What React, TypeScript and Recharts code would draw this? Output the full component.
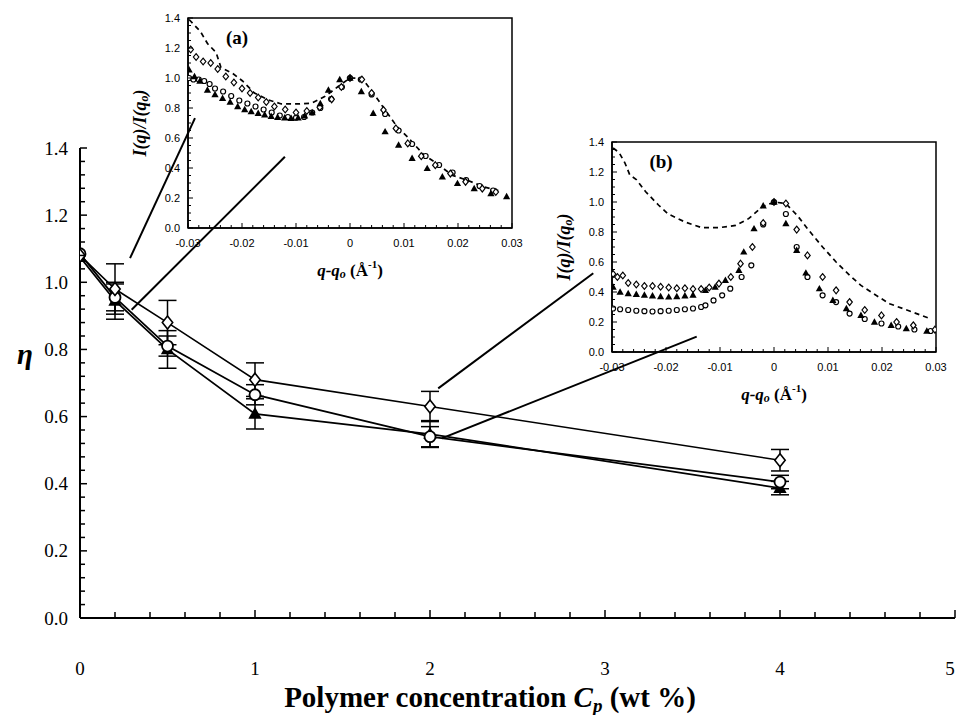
import React from 'react';
import {
  ComposedChart,
  Line,
  Scatter,
  XAxis,
  YAxis,
  ErrorBar,
  ReferenceLine,
  ReferenceArea,
} from 'recharts';

// main plot: eta vs polymer concentration (wt %)
const concentration = [0, 0.2, 0.5, 1, 2, 4];
const etaDiamond = [1.08, 0.98, 0.88, 0.71, 0.63, 0.47];
const errDiamond = [0, 0.075, 0.066, 0.05, 0.045, 0.032];
const etaCircle = [1.085, 0.955, 0.81, 0.665, 0.54, 0.405];
const errCircle = [0, 0.04, 0.03, 0.03, 0.03, 0.02];
const etaTriangle = [1.075, 0.945, 0.8, 0.608, 0.548, 0.387];
const errTriangle = [0, 0.055, 0.056, 0.045, 0.04, 0.02];

// pointer lines from the data points up to the two insets (data coords of the main plot)
const connectors = [
  [{ x: 0.286, y: 1.072 }, { x: 0.657, y: 1.489 }],
  [{ x: 0.295, y: 0.918 }, { x: 1.171, y: 1.374 }],
  [{ x: 2.047, y: 0.684 }, { x: 2.933, y: 1.027 }],
  [{ x: 2.067, y: 0.535 }, { x: 3.524, y: 0.838 }],
];

// inset (a): I(q)/I(qo) vs q-qo
const qDashA = [-0.0298, -0.0277, -0.0264, -0.0248, -0.0239, -0.0217, -0.0199, -0.0177, -0.0152, -0.0127, -0.0096, -0.0071, -0.0047, -0.0022, 0, 0.0022, 0.0043, 0.0065, 0.0087, 0.0109, 0.0137, 0.0161, 0.0189, 0.0217, 0.0248, 0.0275];
const iDashA = [1.39, 1.31, 1.23, 1.17, 1.07, 1.03, 0.98, 0.9, 0.855, 0.827, 0.827, 0.832, 0.876, 0.943, 1.0, 0.999, 0.9, 0.787, 0.676, 0.598, 0.486, 0.43, 0.352, 0.319, 0.274, 0.25];
const qDiamondA = [-0.0295, -0.0285, -0.0272, -0.0258, -0.0245, -0.023, -0.0215, -0.02, -0.0185, -0.017, -0.0155, -0.014, -0.012, -0.01, -0.008, -0.0056, -0.0034, -0.0016, 0, 0.0022, 0.004, 0.0062, 0.0085, 0.0107, 0.0132, 0.0158, 0.0186, 0.0214, 0.0245, 0.027];
const iDiamondA = [1.19, 1.14, 1.11, 1.1, 1.06, 1.01, 0.97, 0.93, 0.9, 0.87, 0.84, 0.81, 0.79, 0.77, 0.78, 0.805, 0.858, 0.94, 1.0, 0.99, 0.9, 0.787, 0.664, 0.564, 0.479, 0.419, 0.363, 0.308, 0.263, 0.24];
const qCircleA = [-0.0298, -0.029, -0.028, -0.027, -0.026, -0.025, -0.0235, -0.022, -0.0205, -0.019, -0.0175, -0.016, -0.0145, -0.013, -0.0115, -0.01, -0.0085, -0.007, -0.0055, -0.0035, -0.0015, 0, 0.002, 0.004, 0.0065, 0.009, 0.0115, 0.014, 0.0165, 0.019, 0.0215, 0.024, 0.0265];
const iCircleA = [1.0, 0.99, 0.99, 0.98, 0.96, 0.93, 0.91, 0.88, 0.85, 0.83, 0.81, 0.79, 0.77, 0.75, 0.74, 0.735, 0.74, 0.77, 0.8, 0.86, 0.94, 1.0, 0.99, 0.89, 0.76, 0.65, 0.56, 0.48, 0.42, 0.37, 0.32, 0.28, 0.25];
const qTriangleA = [-0.0298, -0.0288, -0.0278, -0.0264, -0.025, -0.0236, -0.0222, -0.0208, -0.0195, -0.0183, -0.017, -0.0158, -0.0146, -0.0134, -0.0121, -0.0109, -0.0096, -0.0084, -0.007, -0.0055, -0.004, -0.0019, 0, 0.0021, 0.0043, 0.0065, 0.009, 0.0115, 0.0143, 0.0171, 0.0199, 0.023, 0.0261, 0.029];
const iTriangleA = [1.055, 1.01, 0.98, 0.92, 0.89, 0.865, 0.84, 0.81, 0.79, 0.776, 0.765, 0.754, 0.745, 0.738, 0.734, 0.731, 0.735, 0.747, 0.77, 0.83, 0.92, 0.99, 1.0, 0.91, 0.765, 0.642, 0.553, 0.464, 0.397, 0.341, 0.297, 0.263, 0.23, 0.21];

// inset (b)
const qDashB = [-0.0298, -0.0287, -0.0276, -0.0267, -0.0255, -0.0238, -0.0214, -0.0196, -0.0165, -0.0134, -0.0102, -0.0071, -0.0047, -0.0022, 0, 0.0022, 0.0043, 0.0062, 0.009, 0.0115, 0.014, 0.0161, 0.0189, 0.0214, 0.0239, 0.0264, 0.0289];
const iDashB = [1.36, 1.33, 1.26, 1.18, 1.15, 1.07, 0.98, 0.92, 0.867, 0.829, 0.829, 0.844, 0.889, 0.967, 1.0, 0.989, 0.911, 0.822, 0.7, 0.6, 0.511, 0.444, 0.378, 0.322, 0.289, 0.256, 0.222];
const qDiamondB = [-0.0298, -0.029, -0.028, -0.027, -0.0255, -0.024, -0.0225, -0.021, -0.0195, -0.018, -0.0165, -0.015, -0.0135, -0.012, -0.0102, -0.008, -0.0062, -0.004, -0.002, 0, 0.0022, 0.0042, 0.0062, 0.009, 0.0115, 0.014, 0.0168, 0.0199, 0.0227, 0.0258, 0.0298];
const iDiamondB = [0.52, 0.5, 0.51, 0.46, 0.45, 0.44, 0.44, 0.435, 0.43, 0.425, 0.425, 0.42, 0.42, 0.43, 0.456, 0.5, 0.589, 0.7, 0.86, 1.0, 0.99, 0.816, 0.644, 0.5, 0.411, 0.333, 0.28, 0.244, 0.2, 0.178, 0.149];
const qCircleB = [-0.0298, -0.0285, -0.027, -0.0255, -0.024, -0.0225, -0.021, -0.0195, -0.018, -0.0165, -0.015, -0.0135, -0.0127, -0.0112, -0.0096, -0.0081, -0.006, -0.0042, -0.002, 0, 0.0022, 0.0042, 0.0062, 0.009, 0.0115, 0.014, 0.0168, 0.0199, 0.023, 0.026, 0.029];
const iCircleB = [0.29, 0.285, 0.28, 0.275, 0.272, 0.27, 0.272, 0.275, 0.28, 0.285, 0.29, 0.3, 0.311, 0.344, 0.378, 0.422, 0.5, 0.578, 0.85, 1.0, 0.92, 0.7, 0.5, 0.378, 0.333, 0.256, 0.22, 0.19, 0.17, 0.15, 0.14];
const qTriangleB = [-0.0298, -0.0285, -0.027, -0.0255, -0.024, -0.0225, -0.021, -0.0195, -0.018, -0.0165, -0.015, -0.0127, -0.0109, -0.009, -0.0065, -0.0056, -0.0037, -0.002, 0, 0.0022, 0.0042, 0.0059, 0.0084, 0.0109, 0.0134, 0.0161, 0.0186, 0.0217, 0.0245, 0.0283];
const iTriangleB = [0.433, 0.4, 0.39, 0.385, 0.38, 0.375, 0.37, 0.367, 0.37, 0.375, 0.38, 0.411, 0.433, 0.478, 0.544, 0.667, 0.822, 0.975, 1.0, 0.856, 0.678, 0.527, 0.422, 0.344, 0.289, 0.244, 0.2, 0.178, 0.156, 0.14];

const mainXTicks = Array.from({ length: 26 }, (_, i) => +(i * 0.2).toFixed(1));
const mainYTicks = Array.from({ length: 36 }, (_, i) => +(i * 0.04).toFixed(2));
const insetXTicks = Array.from({ length: 31 }, (_, i) => +(-0.03 + i * 0.002).toFixed(3));
const insetYTicks = Array.from({ length: 29 }, (_, i) => +(i * 0.05).toFixed(2));

const serif = '"Liberation Serif", "Times New Roman", serif';
const sans = '"Liberation Sans", Arial, sans-serif';

const mainRows = (ys: number[], errs: number[]) =>
  concentration.map((x, i) => ({ x, y: ys[i], err: errs[i] }));
const insetRows = (qs: number[], vs: number[]) => qs.map((q, i) => ({ q, v: vs[i] }));

const isMult = (v: number, step: number) => Math.abs(v / step - Math.round(v / step)) < 1e-6;

// markers
const diamond = (cx: number, cy: number, r: number, sw: number, key?: any) => (
  <path key={key} d={`M${cx},${cy - r}L${cx + r * 0.8},${cy}L${cx},${cy + r}L${cx - r * 0.8},${cy}Z`} fill="#fff" stroke="#000" strokeWidth={sw} />
);
const circle = (cx: number, cy: number, r: number, sw: number, key?: any) => (
  <circle key={key} cx={cx} cy={cy} r={r} fill="#fff" stroke="#000" strokeWidth={sw} />
);
const triangle = (cx: number, cy: number, r: number, key?: any) => (
  <path key={key} d={`M${cx},${cy - r}L${cx + r * 0.95},${cy + r * 0.7}L${cx - r * 0.95},${cy + r * 0.7}Z`} fill="#000" />
);

const MainXTick = (p: any) => {
  const v = p.payload.value;
  const major = isMult(v, 1);
  // last label sits right on the page edge, nudge it in a little
  const lx = v >= 5 ? p.x - 5 : p.x;
  return (
    <g>
      <line x1={p.x} y1={p.y} x2={p.x} y2={p.y - (major ? 8 : 6)} stroke="#000" strokeWidth={1.5} />
      {major && (
        <text x={lx} y={p.y + 50} textAnchor="middle" dominantBaseline="central" fontFamily={serif} fontSize={19}>
          {Math.round(v)}
        </text>
      )}
    </g>
  );
};

const MainYTick = (p: any) => {
  const v = p.payload.value;
  const major = isMult(v, 0.2);
  return (
    <g>
      <line x1={p.x} y1={p.y} x2={p.x + (major ? 7 : 5)} y2={p.y} stroke="#000" strokeWidth={1.5} />
      {major && (
        <text x={p.x - 12} y={p.y} textAnchor="end" dominantBaseline="central" fontFamily={serif} fontSize={19}>
          {v.toFixed(1)}
        </text>
      )}
    </g>
  );
};

const InsetXTick = (p: any) => {
  const v = p.payload.value;
  const major = isMult(v, 0.01);
  return (
    <g>
      <line x1={p.x} y1={p.y} x2={p.x} y2={p.y - (major ? 5 : 3)} stroke="#000" strokeWidth={1} />
      {major && (
        <text x={p.x} y={p.y + 15} textAnchor="middle" dominantBaseline="central" fontFamily={sans} fontSize={11}>
          {Math.abs(v) < 1e-9 ? '0' : v.toFixed(2)}
        </text>
      )}
    </g>
  );
};

const InsetYTick = (p: any) => {
  const v = p.payload.value;
  const major = isMult(v, 0.2);
  return (
    <g>
      <line x1={p.x} y1={p.y} x2={p.x + (major ? 5 : 3)} y2={p.y} stroke="#000" strokeWidth={1} />
      {major && (
        <text x={p.x - 8} y={p.y} textAnchor="end" dominantBaseline="central" fontFamily={sans} fontSize={11}>
          {v.toFixed(1)}
        </text>
      )}
    </g>
  );
};

const MainXTitle = ({ viewBox }: any) => (
  <text x={viewBox.x + 410} y={viewBox.y + 79} textAnchor="middle" dominantBaseline="central" fontFamily={serif} fontWeight="bold" fontSize={29}>
    Polymer concentration <tspan fontStyle="italic">C</tspan>
    <tspan fontStyle="italic" fontSize={19} dy={8}>p</tspan>
    <tspan dy={-8}> (wt %)</tspan>
  </text>
);

const MainYTitle = ({ viewBox }: any) => (
  <text x={viewBox.x + 5} y={viewBox.y + 206} textAnchor="middle" dominantBaseline="central" fontFamily={serif} fontWeight="bold" fontStyle="italic" fontSize={29}>
    η
  </text>
);

const InsetXTitle = ({ viewBox }: any) => (
  <text x={viewBox.x + viewBox.width / 2} y={viewBox.y + 42} textAnchor="middle" dominantBaseline="central" fontFamily={serif} fontWeight="bold" fontSize={17}>
    <tspan fontStyle="italic">q-q</tspan>
    <tspan fontStyle="italic" fontSize={12} dy={4}>o</tspan>
    <tspan dy={-4}> (Å</tspan>
    <tspan fontSize={11} dy={-6}>-1</tspan>
    <tspan dy={6}>)</tspan>
  </text>
);

const InsetYTitle = ({ viewBox }: any) => {
  const x = viewBox.x + viewBox.width - 48;
  const y = viewBox.y + viewBox.height / 2;
  return (
    <text x={x} y={y} transform={`rotate(-90 ${x} ${y})`} textAnchor="middle" dominantBaseline="central" fontFamily={serif} fontWeight="bold" fontStyle="italic" fontSize={18}>
      I(q)/I(q<tspan fontSize={12} dy={4}>o</tspan>
      <tspan dy={-4}>)</tspan>
    </text>
  );
};

function Inset({ left, top, tag, dash, dia, circ, tri }: any) {
  return (
    <div style={{ position: 'absolute', left, top }}>
      <ComposedChart width={412} height={290} margin={{ top: 18, right: 20, bottom: 22, left: 28 }}>
        <XAxis
          type="number"
          dataKey="q"
          domain={[-0.03, 0.03]}
          ticks={insetXTicks}
          interval={0}
          allowDataOverflow
          tickSize={0}
          tickMargin={0}
          tickLine={false}
          tick={InsetXTick}
          axisLine={{ stroke: '#000', strokeWidth: 1.5 }}
          height={40}
          label={{ content: InsetXTitle }}
        />
        <YAxis
          type="number"
          dataKey="v"
          domain={[0, 1.4]}
          ticks={insetYTicks}
          interval={0}
          allowDataOverflow
          tickSize={0}
          tickMargin={0}
          tickLine={false}
          tick={InsetYTick}
          axisLine={{ stroke: '#000', strokeWidth: 1.5 }}
          width={40}
          label={{ content: InsetYTitle }}
        />
        <ReferenceArea
          x1={-0.03}
          x2={0.03}
          y1={0}
          y2={1.4}
          fill="none"
          stroke="#000"
          strokeWidth={1.5}
          label={{
            content: ({ viewBox }: any) => (
              <text x={viewBox.x + 49} y={viewBox.y + 19} textAnchor="middle" dominantBaseline="central" fontFamily={serif} fontWeight="bold" fontSize={19}>
                ({tag})
              </text>
            ),
          }}
        />
        <Line data={dash} dataKey="v" stroke="#000" strokeWidth={1.7} strokeDasharray="5 4" dot={false} isAnimationActive={false} />
        <Scatter data={circ} dataKey="v" isAnimationActive={false} shape={(p: any) => circle(p.cx, p.cy, 2.5, 1.2)} />
        <Scatter data={dia} dataKey="v" isAnimationActive={false} shape={(p: any) => diamond(p.cx, p.cy, 3.4, 1.2)} />
        <Scatter data={tri} dataKey="v" isAnimationActive={false} shape={(p: any) => triangle(p.cx, p.cy, 3.8)} />
      </ComposedChart>
    </div>
  );
}

export default function App() {
  return (
    <div style={{ position: 'absolute', left: 0, top: 0, width: 956, height: 715, background: '#fff', overflow: 'hidden' }}>
      <ComposedChart width={956} height={715} margin={{ top: 148, right: 1, bottom: 0, left: 20 }}>
        <XAxis
          type="number"
          dataKey="x"
          domain={[0, 5]}
          ticks={mainXTicks}
          interval={0}
          allowDataOverflow
          tickSize={0}
          tickMargin={0}
          tickLine={false}
          tick={MainXTick}
          axisLine={{ stroke: '#000', strokeWidth: 2 }}
          height={97}
          label={{ content: MainXTitle }}
        />
        <YAxis
          type="number"
          dataKey="y"
          domain={[0, 1.4]}
          ticks={mainYTicks}
          interval={0}
          allowDataOverflow
          tickSize={0}
          tickMargin={0}
          tickLine={false}
          tick={MainYTick}
          axisLine={{ stroke: '#000', strokeWidth: 2 }}
          width={60}
          label={{ content: MainYTitle }}
        />
        {connectors.map((seg, i) => (
          <ReferenceLine key={i} segment={seg} stroke="#000" strokeWidth={2} ifOverflow="visible" />
        ))}
        <Line
          data={mainRows(etaTriangle, errTriangle)}
          dataKey="y"
          stroke="#000"
          strokeWidth={1.8}
          isAnimationActive={false}
          dot={(p: any) => triangle(p.cx, p.cy, 7, `t${p.index}`)}
        >
          <ErrorBar dataKey="err" width={9} stroke="#000" strokeWidth={1.5} direction="y" />
        </Line>
        <Line
          data={mainRows(etaCircle, errCircle)}
          dataKey="y"
          stroke="#000"
          strokeWidth={1.8}
          isAnimationActive={false}
          dot={(p: any) => circle(p.cx, p.cy, 5.5, 1.8, `c${p.index}`)}
        >
          <ErrorBar dataKey="err" width={9} stroke="#000" strokeWidth={1.5} direction="y" />
        </Line>
        <Line
          data={mainRows(etaDiamond, errDiamond)}
          dataKey="y"
          stroke="#000"
          strokeWidth={1.6}
          isAnimationActive={false}
          dot={(p: any) => diamond(p.cx, p.cy, 6.5, 1.6, `d${p.index}`)}
        >
          <ErrorBar dataKey="err" width={9} stroke="#000" strokeWidth={1.5} direction="y" />
        </Line>
      </ComposedChart>
      <Inset
        left={120}
        top={0}
        tag="a"
        dash={insetRows(qDashA, iDashA)}
        dia={insetRows(qDiamondA, iDiamondA)}
        circ={insetRows(qCircleA, iCircleA)}
        tri={insetRows(qTriangleA, iTriangleA)}
      />
      <Inset
        left={544}
        top={124}
        tag="b"
        dash={insetRows(qDashB, iDashB)}
        dia={insetRows(qDiamondB, iDiamondB)}
        circ={insetRows(qCircleB, iCircleB)}
        tri={insetRows(qTriangleB, iTriangleB)}
      />
    </div>
  );
}
